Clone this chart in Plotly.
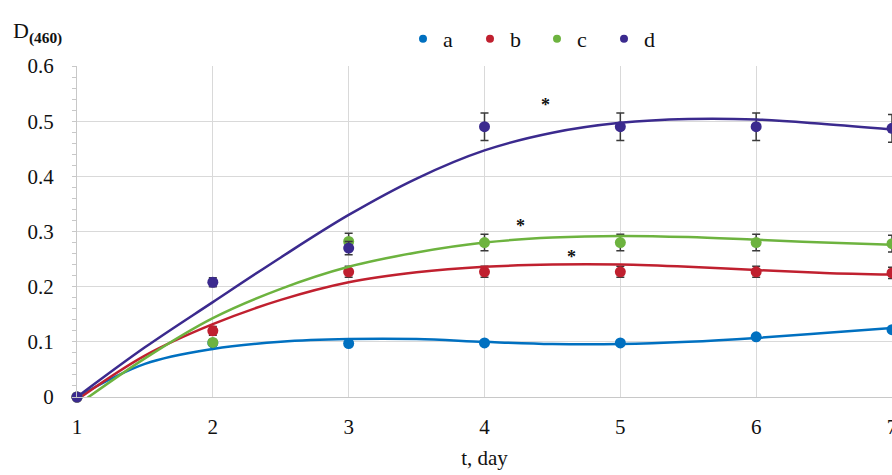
import plotly.graph_objects as go

days = [1, 2, 3, 4, 5, 6, 7]
series_names = ["a", "b", "c", "d"]

a_vals = [0.0, 0.098, 0.097, 0.098, 0.098, 0.109, 0.122]
b_vals = [0.0, 0.120, 0.227, 0.227, 0.227, 0.227, 0.225]
c_vals = [0.0, 0.099, 0.282, 0.280, 0.280, 0.280, 0.278]
d_vals = [0.0, 0.208, 0.270, 0.490, 0.490, 0.490, 0.487]

a_err = [0.0, 0.003, 0.003, 0.003, 0.003, 0.003, 0.003]
b_err = [0.0, 0.008, 0.010, 0.010, 0.010, 0.010, 0.010]
c_err = [0.0, 0.005, 0.015, 0.015, 0.015, 0.015, 0.015]
d_err = [0.0, 0.008, 0.012, 0.025, 0.025, 0.025, 0.025]

# trend curves
trend_x = [1, 1.5, 2, 2.5, 3, 3.5, 4, 4.5, 5, 5.5, 6, 6.5, 7]
a_trend = [0.0, 0.060, 0.087, 0.100, 0.105, 0.105, 0.100, 0.096, 0.096, 0.100, 0.107, 0.116, 0.125]
b_trend = [-0.005, 0.075, 0.132, 0.176, 0.208, 0.226, 0.236, 0.240, 0.240, 0.236, 0.230, 0.225, 0.222]
c_trend = [-0.015, 0.070, 0.143, 0.196, 0.236, 0.262, 0.280, 0.289, 0.292, 0.290, 0.285, 0.280, 0.276]
d_trend = [0.0, 0.090, 0.172, 0.253, 0.330, 0.396, 0.447, 0.479, 0.497, 0.504, 0.503, 0.495, 0.485]

star_x = [4.45, 4.265, 4.643]
star_y = [0.538, 0.319, 0.262]

colors = ["#0070C0", "#C0202F", "#6DB33F", "#3B2A8E"]
vals = [a_vals, b_vals, c_vals, d_vals]
errs = [a_err, b_err, c_err, d_err]
trends = [a_trend, b_trend, c_trend, d_trend]

FONT = "Liberation Serif, Times New Roman, serif"
TXT = "#111111"

fig = go.Figure()

for name, col, v, e, t in zip(series_names, colors, vals, errs, trends):
    fig.add_trace(go.Scatter(
        x=days, y=v, mode="markers", showlegend=False,
        marker=dict(color=col, size=11),
        error_y=dict(type="data", array=e, visible=True, color="#3a3a3a",
                     thickness=1.5, width=4),
        cliponaxis=False,
    ))
    fig.add_trace(go.Scatter(
        x=trend_x, y=t, mode="lines", showlegend=False,
        line=dict(color=col, width=2.5, shape="spline", smoothing=1.0),
    ))

for name, col in zip(series_names, colors):
    fig.add_trace(go.Scatter(
        x=[None], y=[None], mode="markers", name=name,
        marker=dict(color=col, size=8),
    ))

for sx, sy in zip(star_x, star_y):
    fig.add_annotation(x=sx, y=sy, xref="x", yref="y", text="<b>*</b>",
                       showarrow=False, yshift=-5,
                       font=dict(family=FONT, size=18, color=TXT))

fig.add_annotation(xref="paper", yref="paper", x=-0.081, y=1.15,
                   xanchor="left", yanchor="top", showarrow=False,
                   text="D<sub><b>(460)</b></sub>",
                   font=dict(family=FONT, size=22, color=TXT))

fig.update_layout(
    width=892, height=475,
    margin=dict(l=77, r=0, t=66, b=78, autoexpand=False),
    paper_bgcolor="white", plot_bgcolor="white",
    font=dict(family=FONT, size=21, color=TXT),
    legend=dict(orientation="h", x=0.40, xanchor="left", y=1.082, yanchor="middle",
                font=dict(family=FONT, size=22, color=TXT),
                entrywidth=22, entrywidthmode="pixels",
                bgcolor="rgba(0,0,0,0)"),
    xaxis=dict(range=[1, 7], dtick=1, tick0=1, showgrid=True, gridcolor="#D9D9D9",
               gridwidth=1, showline=True, linecolor="#C8C8C8", zeroline=False,
               ticks="", ticklabelstandoff=11, automargin=False,
               ticklabeloverflow="allow",
               tickfont=dict(family=FONT, size=21, color=TXT),
               title=dict(text="t, day", standoff=12,
                          font=dict(family=FONT, size=21, color=TXT))),
    yaxis=dict(range=[0, 0.6], dtick=0.1, showgrid=True, gridcolor="#D9D9D9",
               gridwidth=1, showline=True, linecolor="#C8C8C8", zeroline=False,
               ticks="outside", ticklen=4, tickcolor="#C8C8C8",
               ticklabelstandoff=14, automargin=False,
               tickfont=dict(family=FONT, size=21, color=TXT),
               minor=dict(dtick=0.02, ticks="outside", ticklen=4, tickcolor="#C8C8C8",
                          showgrid=False)),
)

fig.write_html("out.html",
               config={"displayModeBar": False},
               post_script="document.body.style.margin='0';document.body.style.overflow='hidden';")
